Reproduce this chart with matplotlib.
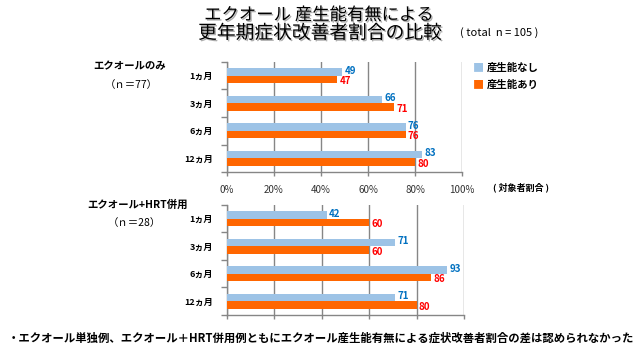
import numpy as np
import matplotlib
matplotlib.use('Agg')
import matplotlib.pyplot as plt
import matplotlib.patheffects as pe

plt.rcParams['font.family'] = ['Noto Sans CJK JP', 'DejaVu Sans']

# data
periods = ['1ヵ月', '3ヵ月', '6ヵ月', '12ヵ月']
equol_only_none = [49, 66, 76, 83]
equol_only_prod = [47, 71, 76, 80]
equol_hrt_none = [42, 71, 93, 71]
equol_hrt_prod = [60, 60, 86, 80]
xticks = [0, 20, 40, 60, 80, 100]
xticklabels = ['0%', '20%', '40%', '60%', '80%', '100%']
series_names = ['産生能なし', '産生能あり']

c_none = '#9DC3E6'
c_prod = '#FF6600'
c_grid = '#868686'
bar_h = 0.28

fig = plt.figure(figsize=(6.4, 3.6), dpi=100)
ax_top = fig.add_axes([0.3547, 0.5222, 0.3672, 0.3056])
ax_bot = fig.add_axes([0.3547, 0.1250, 0.3703, 0.3056])


def draw_panel(ax, none_vals, prod_vals, show_xlabels):
    y = np.arange(len(periods))
    ax.barh(y - bar_h / 2, none_vals, height=bar_h, color=c_none, zorder=3)
    ax.barh(y + bar_h / 2, prod_vals, height=bar_h, color=c_prod, zorder=3)
    # value labels, nudged apart a little so they don't collide
    for yi, v in zip(y, none_vals):
        ax.text(v + 1, yi - bar_h / 2 - 0.04, str(v), color='#0070C0', fontsize=7,
                fontweight='bold', va='center', ha='left', zorder=4)
    for yi, v in zip(y, prod_vals):
        ax.text(v + 1, yi + bar_h / 2 + 0.06, str(v), color='#FF0000', fontsize=7,
                fontweight='bold', va='center', ha='left', zorder=4)
    ax.set_xlim(0, 100)
    ax.set_ylim(len(periods) - 0.5, -0.5)
    ax.set_xticks(xticks)
    if show_xlabels:
        ax.set_xticklabels(xticklabels, fontsize=7, color='#333333')
    else:
        ax.set_xticklabels([])
    ax.set_yticks(y)
    ax.set_yticklabels(periods, fontsize=6.5, fontweight='bold')
    ax.set_yticks(np.arange(len(periods) + 1) - 0.5, minor=True)
    ax.tick_params(axis='y', which='major', length=0, pad=10)
    ax.tick_params(axis='y', which='minor', length=4, color=c_grid, width=1)
    ax.tick_params(axis='x', length=3, color=c_grid, width=1, pad=6)
    ax.grid(axis='x', color=c_grid, linewidth=1, zorder=0)
    for s in ['top', 'right']:
        ax.spines[s].set_visible(False)
    for s in ['left', 'bottom']:
        ax.spines[s].set_color(c_grid)
        ax.spines[s].set_linewidth(1)


draw_panel(ax_top, equol_only_none, equol_only_prod, True)
draw_panel(ax_bot, equol_hrt_none, equol_hrt_prod, False)

# legend
fig.text(478 / 640, 1 - 68 / 360, '■', color=c_none, fontsize=8, va='center', ha='center')
fig.text(478 / 640, 1 - 85 / 360, '■', color=c_prod, fontsize=8, va='center', ha='center')
fig.text(487 / 640, 1 - 68 / 360, series_names[0], fontsize=7.5, fontweight='bold',
         va='center', ha='left')
fig.text(487 / 640, 1 - 85 / 360, series_names[1], fontsize=7.5, fontweight='bold',
         va='center', ha='left')

fig.text(493 / 640, 1 - 187 / 360, '( 対象者割合 )', fontsize=6.5, fontweight='bold',
         va='center', ha='left')

# titles
shadow = [pe.withSimplePatchShadow(offset=(1, -1), shadow_rgbFace='#999999', alpha=0.8)]
fig.text(319 / 640, 1 - 15 / 360, 'エクオール 産生能有無による', fontsize=12.5,
         ha='center', va='center', path_effects=shadow)
fig.text(320 / 640, 1 - 33 / 360, '更年期症状改善者割合の比較', fontsize=13.5,
         ha='center', va='center', path_effects=shadow)
fig.text(460 / 640, 1 - 33 / 360, '( total  n = 105 )', fontsize=8,
         ha='left', va='center')

# group labels
fig.text(130 / 640, 1 - 66 / 360, 'エクオールのみ', fontsize=7.5, fontweight='bold',
         ha='center', va='center')
fig.text(131 / 640, 1 - 85 / 360, '（ｎ＝77）', fontsize=7.5, ha='center', va='center')
fig.text(138 / 640, 1 - 205 / 360, 'エクオール+HRT併用', fontsize=7.5, fontweight='bold',
         ha='center', va='center')
fig.text(134 / 640, 1 - 223 / 360, '（ｎ＝28）', fontsize=7.5, ha='center', va='center')

fig.text(8 / 640, 1 - 338 / 360,
         '・エクオール単独例、エクオール＋HRT併用例ともにエクオール産生能有無による症状改善者割合の差は認められなかった',
         fontsize=8.2, fontweight='bold', ha='left', va='center')

fig.savefig('out.png', dpi=100)
